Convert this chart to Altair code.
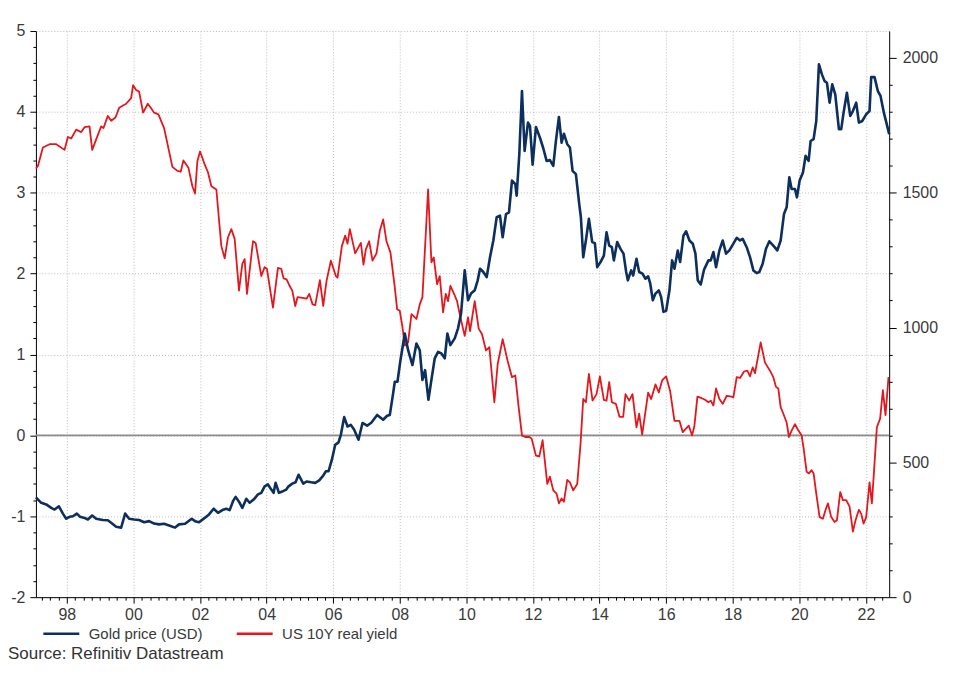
import altair as alt
import pandas as pd

# ---------------- data (decimal year, value) ----------------
gold_points = [
    (1997.07, 370), (1997.23, 350), (1997.38, 344), (1997.53, 331), (1997.63, 325), (1997.76, 337),
    (1997.88, 310), (1997.98, 291), (1998.08, 298), (1998.18, 300), (1998.30, 310), (1998.40, 298),
    (1998.53, 294), (1998.63, 288), (1998.76, 303), (1998.88, 291), (1999.08, 286), (1999.23, 285),
    (1999.33, 276), (1999.48, 261), (1999.63, 258), (1999.75, 310), (1999.87, 291), (2000.02, 288),
    (2000.17, 286), (2000.32, 278), (2000.47, 282), (2000.62, 273), (2000.77, 270), (2000.92, 272),
    (2001.07, 266), (2001.25, 258), (2001.37, 270), (2001.55, 272), (2001.75, 291), (2001.85, 282),
    (2001.97, 278), (2002.14, 294), (2002.27, 307), (2002.41, 328), (2002.54, 313), (2002.67, 323),
    (2002.79, 328), (2002.89, 323), (2002.99, 356), (2003.07, 372), (2003.19, 350), (2003.27, 331),
    (2003.39, 365), (2003.49, 350), (2003.61, 362), (2003.74, 381), (2003.84, 387), (2003.94, 411),
    (2004.04, 418), (2004.14, 399), (2004.21, 387), (2004.27, 424), (2004.37, 387), (2004.49, 393),
    (2004.59, 399), (2004.66, 411), (2004.77, 421), (2004.87, 426), (2004.96, 454), (2005.10, 421),
    (2005.20, 429), (2005.34, 426), (2005.46, 424), (2005.58, 433), (2005.70, 451), (2005.78, 467),
    (2005.86, 467), (2005.96, 510), (2006.06, 565), (2006.16, 574), (2006.23, 602), (2006.33, 668),
    (2006.43, 633), (2006.53, 639), (2006.63, 621), (2006.76, 584), (2006.88, 646), (2007.02, 636),
    (2007.15, 648), (2007.32, 676), (2007.50, 658), (2007.62, 673), (2007.70, 676), (2007.80, 756),
    (2007.85, 799), (2007.93, 799), (2008.02, 879), (2008.15, 978), (2008.25, 916), (2008.38, 861),
    (2008.50, 941), (2008.60, 916), (2008.68, 806), (2008.76, 842), (2008.86, 732), (2008.95, 806),
    (2009.05, 886), (2009.15, 910), (2009.25, 904), (2009.35, 886), (2009.43, 978), (2009.52, 935),
    (2009.65, 960), (2009.75, 997), (2009.84, 1052), (2009.95, 1212), (2010.05, 1101), (2010.14, 1126),
    (2010.25, 1138), (2010.34, 1175), (2010.41, 1218), (2010.51, 1206), (2010.61, 1187), (2010.71, 1261),
    (2010.81, 1323), (2010.91, 1409), (2011.01, 1415), (2011.09, 1335), (2011.19, 1421), (2011.28, 1427),
    (2011.37, 1545), (2011.47, 1532), (2011.51, 1489), (2011.59, 1643), (2011.67, 1877), (2011.75, 1655),
    (2011.85, 1760), (2011.91, 1748), (2011.99, 1604), (2012.09, 1744), (2012.21, 1704), (2012.31, 1665),
    (2012.41, 1618), (2012.51, 1621), (2012.61, 1600), (2012.69, 1692), (2012.78, 1781), (2012.86, 1686),
    (2012.93, 1719), (2013.03, 1680), (2013.11, 1668), (2013.19, 1581), (2013.29, 1569), (2013.39, 1458),
    (2013.44, 1409), (2013.51, 1261), (2013.59, 1323), (2013.68, 1403), (2013.78, 1317), (2013.86, 1313),
    (2013.93, 1224), (2014.03, 1243), (2014.13, 1267), (2014.21, 1353), (2014.29, 1304), (2014.37, 1298),
    (2014.43, 1249), (2014.53, 1317), (2014.63, 1292), (2014.72, 1274), (2014.80, 1206), (2014.85, 1175),
    (2014.95, 1212), (2015.01, 1193), (2015.11, 1255), (2015.19, 1206), (2015.29, 1200), (2015.38, 1181),
    (2015.46, 1190), (2015.52, 1165), (2015.60, 1101), (2015.68, 1126), (2015.78, 1138), (2015.85, 1113),
    (2015.92, 1058), (2016.00, 1062), (2016.10, 1138), (2016.18, 1249), (2016.25, 1218), (2016.35, 1286),
    (2016.42, 1243), (2016.52, 1341), (2016.60, 1357), (2016.70, 1323), (2016.80, 1311), (2016.88, 1274),
    (2016.95, 1175), (2017.04, 1160), (2017.14, 1215), (2017.27, 1249), (2017.34, 1249), (2017.42, 1280),
    (2017.50, 1224), (2017.60, 1286), (2017.70, 1323), (2017.80, 1274), (2017.90, 1286), (2018.02, 1311),
    (2018.12, 1333), (2018.22, 1323), (2018.30, 1329), (2018.42, 1298), (2018.52, 1261), (2018.62, 1212),
    (2018.72, 1202), (2018.80, 1206), (2018.90, 1237), (2019.00, 1292), (2019.10, 1320), (2019.22, 1304),
    (2019.34, 1286), (2019.44, 1323), (2019.54, 1421), (2019.62, 1446), (2019.70, 1557), (2019.77, 1514),
    (2019.87, 1514), (2019.93, 1483), (2020.01, 1545), (2020.11, 1575), (2020.19, 1637), (2020.28, 1618),
    (2020.34, 1692), (2020.43, 1699), (2020.51, 1766), (2020.59, 1976), (2020.68, 1939), (2020.76, 1914),
    (2020.83, 1908), (2020.91, 1834), (2020.99, 1902), (2021.08, 1865), (2021.19, 1736), (2021.26, 1736),
    (2021.33, 1797), (2021.43, 1871), (2021.53, 1785), (2021.61, 1803), (2021.71, 1834), (2021.79, 1760),
    (2021.89, 1766), (2022.01, 1791), (2022.11, 1803), (2022.16, 1929), (2022.26, 1929), (2022.36, 1877),
    (2022.44, 1859), (2022.54, 1797), (2022.64, 1748), (2022.70, 1717),
]

yield_points = [
    (1997.07, 3.30), (1997.13, 3.33), (1997.28, 3.56), (1997.48, 3.60), (1997.68, 3.60), (1997.93, 3.53),
    (1998.03, 3.69), (1998.13, 3.67), (1998.28, 3.78), (1998.43, 3.75), (1998.53, 3.81), (1998.68, 3.82),
    (1998.76, 3.53), (1999.03, 3.82), (1999.10, 3.80), (1999.23, 3.95), (1999.33, 3.89), (1999.46, 3.93),
    (1999.57, 4.05), (1999.78, 4.10), (1999.93, 4.17), (1999.99, 4.33), (2000.08, 4.27), (2000.17, 4.25),
    (2000.29, 3.99), (2000.43, 4.10), (2000.52, 4.05), (2000.62, 3.99), (2000.75, 3.97), (2000.92, 3.80),
    (2001.17, 3.32), (2001.32, 3.27), (2001.42, 3.26), (2001.50, 3.40), (2001.65, 3.31), (2001.77, 3.08),
    (2001.85, 2.99), (2001.92, 3.39), (2002.00, 3.51), (2002.14, 3.35), (2002.24, 3.25), (2002.34, 3.08),
    (2002.49, 3.04), (2002.64, 2.34), (2002.74, 2.19), (2002.84, 2.45), (2002.94, 2.55), (2003.04, 2.43),
    (2003.17, 1.79), (2003.27, 2.12), (2003.34, 2.18), (2003.41, 1.75), (2003.59, 2.40), (2003.67, 2.38),
    (2003.84, 1.97), (2003.94, 2.08), (2004.01, 2.06), (2004.19, 1.58), (2004.34, 2.07), (2004.44, 2.06),
    (2004.51, 1.94), (2004.60, 1.93), (2004.69, 1.85), (2004.77, 1.79), (2004.86, 1.60), (2004.93, 1.71),
    (2005.08, 1.70), (2005.20, 1.69), (2005.28, 1.75), (2005.38, 1.62), (2005.46, 1.61), (2005.60, 1.92),
    (2005.70, 1.60), (2005.80, 1.91), (2005.93, 2.16), (2006.08, 1.97), (2006.13, 1.95), (2006.26, 2.34),
    (2006.36, 2.47), (2006.43, 2.37), (2006.50, 2.55), (2006.66, 2.25), (2006.83, 2.38), (2006.91, 2.11),
    (2006.98, 2.30), (2007.08, 2.40), (2007.18, 2.16), (2007.30, 2.25), (2007.40, 2.53), (2007.50, 2.67),
    (2007.60, 2.40), (2007.72, 2.26), (2007.85, 1.83), (2007.92, 1.56), (2008.00, 1.54), (2008.08, 1.34),
    (2008.15, 1.11), (2008.25, 1.15), (2008.35, 1.50), (2008.50, 1.44), (2008.60, 1.62), (2008.68, 1.71),
    (2008.85, 3.04), (2008.95, 2.14), (2009.02, 2.20), (2009.12, 1.87), (2009.20, 1.97), (2009.30, 1.52),
    (2009.38, 1.75), (2009.45, 1.66), (2009.52, 1.85), (2009.65, 1.73), (2009.72, 1.66), (2009.80, 1.50),
    (2009.95, 1.23), (2010.05, 1.46), (2010.11, 1.29), (2010.25, 1.66), (2010.37, 1.32), (2010.47, 1.25),
    (2010.59, 1.05), (2010.69, 1.09), (2010.84, 0.41), (2010.94, 0.88), (2011.09, 1.19), (2011.24, 0.92),
    (2011.37, 0.72), (2011.47, 0.74), (2011.57, 0.35), (2011.67, 0.00), (2011.77, -0.02), (2011.89, -0.02),
    (2011.96, -0.04), (2012.09, -0.25), (2012.19, -0.26), (2012.29, -0.06), (2012.43, -0.60), (2012.51, -0.51),
    (2012.61, -0.68), (2012.71, -0.72), (2012.78, -0.84), (2012.86, -0.78), (2012.93, -0.82), (2013.03, -0.55),
    (2013.11, -0.58), (2013.21, -0.68), (2013.33, -0.60), (2013.43, -0.10), (2013.51, 0.45), (2013.59, 0.41),
    (2013.68, 0.76), (2013.79, 0.43), (2013.91, 0.51), (2014.01, 0.73), (2014.13, 0.44), (2014.21, 0.43),
    (2014.29, 0.66), (2014.37, 0.41), (2014.49, 0.39), (2014.60, 0.23), (2014.71, 0.23), (2014.78, 0.51),
    (2014.89, 0.43), (2014.99, 0.51), (2015.11, 0.10), (2015.19, 0.27), (2015.28, 0.01), (2015.46, 0.53),
    (2015.55, 0.45), (2015.68, 0.63), (2015.78, 0.53), (2015.88, 0.68), (2016.00, 0.73), (2016.12, 0.55),
    (2016.25, 0.18), (2016.40, 0.18), (2016.50, 0.04), (2016.68, 0.12), (2016.78, 0.00), (2016.85, 0.12),
    (2016.94, 0.48), (2017.07, 0.46), (2017.17, 0.44), (2017.27, 0.41), (2017.34, 0.43), (2017.42, 0.37),
    (2017.50, 0.58), (2017.60, 0.45), (2017.70, 0.39), (2017.82, 0.49), (2017.97, 0.48), (2018.02, 0.47),
    (2018.12, 0.72), (2018.22, 0.71), (2018.34, 0.79), (2018.44, 0.80), (2018.52, 0.73), (2018.60, 0.84),
    (2018.67, 0.77), (2018.84, 1.15), (2018.97, 0.90), (2019.12, 0.80), (2019.22, 0.72), (2019.30, 0.60),
    (2019.37, 0.58), (2019.44, 0.35), (2019.51, 0.28), (2019.62, 0.16), (2019.69, -0.02), (2019.77, 0.06),
    (2019.87, 0.14), (2019.96, 0.07), (2020.07, 0.00), (2020.13, -0.16), (2020.22, -0.45), (2020.29, -0.47),
    (2020.37, -0.43), (2020.43, -0.47), (2020.51, -0.72), (2020.61, -1.01), (2020.71, -1.03), (2020.79, -0.92),
    (2020.86, -0.84), (2020.96, -1.01), (2021.06, -1.07), (2021.13, -1.05), (2021.23, -0.70), (2021.31, -0.80),
    (2021.41, -0.80), (2021.51, -0.88), (2021.61, -1.19), (2021.69, -1.05), (2021.79, -0.92), (2021.86, -0.97),
    (2021.93, -1.09), (2022.01, -1.01), (2022.11, -0.58), (2022.18, -0.84), (2022.24, -0.47), (2022.33, 0.10),
    (2022.43, 0.21), (2022.51, 0.56), (2022.59, 0.25), (2022.68, 0.72),
]

series_names = ["Gold price (USD)", "US 10Y real yield"]
series_colors = ["#0c2f5e", "#e3171e"]
source_text = "Source: Refinitiv Datastream"

x_domain = [1997.07, 2022.70]
left_domain = [-2, 5]
right_domain = [0, 2100]
x_ticks = [round(1997.25 + 0.25 * i, 2) for i in range(102)]      # quarterly ticks
left_ticks = [round(-2 + 0.2 * i, 1) for i in range(36)]            # 0.2 steps
right_ticks = list(range(0, 2001, 100))                              # 100 steps

# ---------------- frames ----------------
gold_df = pd.DataFrame(gold_points, columns=["t", "g"])
gold_df["series"] = series_names[0]
yield_df = pd.DataFrame(yield_points, columns=["t", "v"])
yield_df["series"] = series_names[1]

FONT = "Liberation Sans"
LABEL_COLOR = "#3a3a3a"
GRID_COLOR = "#bcbcbc"


def cond(test, a, b):
    return {"condition": {"test": test, "value": a}, "value": b}


x_enc = alt.X(
    "t:Q", title=None,
    scale=alt.Scale(domain=x_domain, nice=False, zero=False),
    axis=alt.Axis(
        values=x_ticks,
        labelExpr="datum.value % 2 == 0 ? substring(toString(datum.value), 2, 4) : ''",
        tickSize=cond("datum.value % 2 == 0", 6, 3),
        grid=True,
        gridOpacity=cond("datum.value % 2 == 0", 1, 0),
        gridDash=[1, 2], gridColor=GRID_COLOR, gridWidth=1,
        domainColor="#000000", tickColor="#000000", domainWidth=1,
        labelFontSize=16, labelFont=FONT, labelColor=LABEL_COLOR,
        labelPadding=3, labelOverlap=False, labelFlush=False, labelBound=False,
    ),
)

color_enc = alt.Color(
    "series:N",
    scale=alt.Scale(domain=series_names, range=series_colors),
    legend=alt.Legend(
        title=None, orient="none", legendX=6, legendY=585, direction="horizontal",
        symbolType="stroke", symbolSize=1300, symbolStrokeWidth=2.5,
        labelFont=FONT, labelFontSize=15, labelColor=LABEL_COLOR,
        labelOffset=8, columnPadding=28,
    ),
)

zero_rule = alt.Chart(pd.DataFrame({"v": [0]})).mark_rule(
    color="#8c8c8c", strokeWidth=1.6
).encode(
    y=alt.Y("v:Q", scale=alt.Scale(domain=left_domain, nice=False, zero=False), axis=None)
)

yield_line = alt.Chart(yield_df).mark_line(strokeWidth=1.8, strokeJoin="round").encode(
    x=x_enc,
    y=alt.Y(
        "v:Q", title=None,
        scale=alt.Scale(domain=left_domain, nice=False, zero=False),
        axis=alt.Axis(
            orient="left", values=left_ticks,
            labelExpr="datum.value % 1 == 0 ? toString(datum.value) : ''",
            tickSize=cond("datum.value % 1 == 0", 6, 3),
            grid=True,
            gridOpacity=cond("datum.value % 1 == 0", 1, 0),
            gridDash=[1, 2], gridColor=GRID_COLOR,
            domainColor="#000000", tickColor="#000000",
            labelFontSize=16, labelFont=FONT, labelColor=LABEL_COLOR,
            labelPadding=5, labelOverlap=False, labelFlush=False, labelBound=False,
        ),
    ),
    color=color_enc,
)

gold_line = alt.Chart(gold_df).mark_line(strokeWidth=2.6, strokeJoin="round").encode(
    x=x_enc,
    y=alt.Y(
        "g:Q", title=None,
        scale=alt.Scale(domain=right_domain, nice=False, zero=False),
        axis=alt.Axis(
            orient="right", values=right_ticks,
            labelExpr="datum.value % 500 == 0 ? toString(datum.value) : ''",
            tickSize=cond("datum.value % 500 == 0", 7, 3),
            grid=False,
            domainColor="#000000", tickColor="#000000",
            labelFontSize=16, labelFont=FONT, labelColor=LABEL_COLOR,
            labelPadding=6, labelOverlap=False, labelFlush=False, labelBound=False,
        ),
    ),
    color=color_enc,
)

source = alt.Chart(pd.DataFrame({"s": [source_text]})).mark_text(
    align="left", baseline="alphabetic", font=FONT, fontSize=17, color="#333333"
).encode(x=alt.value(-28), y=alt.value(630), text="s:N")

chart = (
    alt.layer(zero_rule, yield_line, gold_line, source)
    .resolve_scale(y="independent")
    .properties(
        width=856, height=568,
        autosize=alt.AutoSizeParams(type="none"),
        padding={"left": 28, "top": 22, "right": 56, "bottom": 67},
        background="white",
    )
    .configure_view(stroke=None)
)

chart.save("out.html", embed_options={"renderer": "svg", "actions": False})
